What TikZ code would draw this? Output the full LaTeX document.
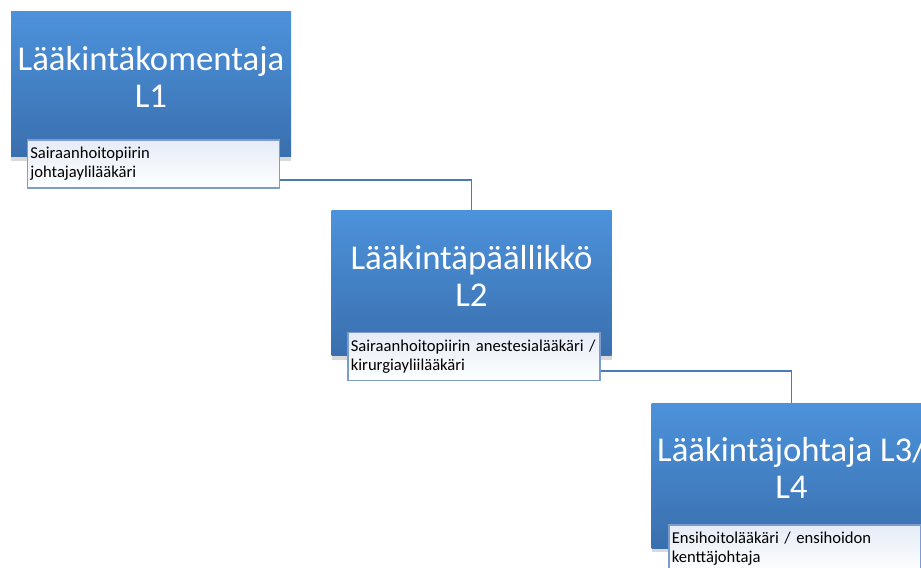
\documentclass[tikz,border=0pt]{standalone}
\usepackage{fontspec}
\setmainfont{Carlito}
\usetikzlibrary{positioning,calc,shadows}
\definecolor{boxtop}{RGB}{76,146,219}
\definecolor{boxbot}{RGB}{58,111,174}
\definecolor{subline}{RGB}{125,155,205}
\definecolor{subtop}{RGB}{229,236,247}
\definecolor{connline}{RGB}{74,124,178}

\begin{document}
\begin{tikzpicture}[
    levelbox/.style={top color=boxtop, bottom color=boxbot, draw=none,
      minimum width=5.6cm, minimum height=2.9cm,
      drop shadow={shadow xshift=0pt, shadow yshift=-2.5pt, opacity=0.3}},
    leveltitle/.style={text=white, font=\fontsize{19.8}{21}\selectfont, align=center},
    rolebox/.style={top color=subtop, bottom color=white, draw=subline, line width=0.8pt,
      anchor=north west, minimum width=5.04cm, minimum height=0.96cm,
      text width=4.92cm, inner xsep=1.5pt, inner ysep=2pt, align=left,
      font=\fontsize{9.45}{10.8}\selectfont},
    conn/.style={draw=connline, line width=0.9pt}]
  \clip (0,0) rectangle (18.42,11.34);
  \useasboundingbox (0,0) rectangle (18.42,11.34);

  % the three levels
  \node[levelbox] (box1) at (3.02,9.65) {};
  \node[leveltitle] (title1) at ($(box1.center)+(0,0.15)$) {Lääkintäkomentaja\\L1};
  \node[rolebox] (role1) at ($(box1.south west)+(0.32,0.36)$) {Sairaanhoitopiirin\\johtajaylilääkäri};

  \node[levelbox] (box2) at (9.43,5.68) {};
  \node[leveltitle] (title2) at ($(box2.center)+(0,0.15)$) {Lääkintäpäällikkö\\L2};
  \node[rolebox] (role2) at ($(box2.south west)+(0.32,0.48)$) {Sairaanhoitopiirin anestesialääkäri /\\kirurgiayliilääkäri};

  \node[levelbox] (box3) at (15.83,1.83) {};
  \node[leveltitle] (title3) at ($(box3.center)+(0,0.15)$) {Lääkintäjohtaja L3/\\L4};
  \node[rolebox] (role3) at ($(box3.south west)+(0.34,0.48)$) {Ensihoitolääkäri / ensihoidon\\kenttäjohtaja};

  % connectors
  \draw[conn] ($(role1.south east)+(0,0.18)$) -| (box2.north);
  \draw[conn] ($(role2.south east)+(0,0.2)$) -| (box3.north);
\end{tikzpicture}
\end{document}
